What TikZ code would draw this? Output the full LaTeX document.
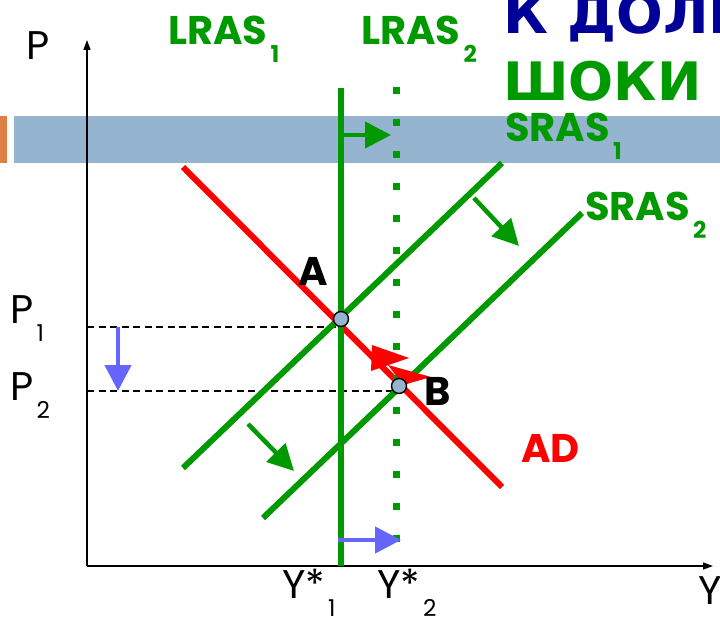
\documentclass[tikz,border=0pt]{standalone}
\usepackage{fontspec}
\setmainfont{Poppins}
\newfontfamily\cyrfont{DejaVu Sans}
\usetikzlibrary{arrows.meta}
\definecolor{ShockGreen}{HTML}{009900}
\definecolor{ShockRed}{HTML}{FF0000}
\definecolor{ShockBand}{HTML}{94B4D0}
\definecolor{ShockOrange}{HTML}{E07F45}
\definecolor{ShockViolet}{HTML}{6666FF}
\definecolor{ShockNavy}{HTML}{000099}
\newcommand\lowidx[1]{\kern.08em\raisebox{-.45em}{\scalebox{.58}{#1}}}

\begin{document}
\begin{tikzpicture}[x=1pt,y=-1pt,
  axis/.style={line width=1.4pt,-{Triangle[length=10pt,width=7pt]}},
  guide/.style={line width=1.4pt,dash pattern=on 7pt off 4.5pt},
  curve/.style={line width=6pt},
  movearrow/.style={line width=4.5pt,-{Triangle[length=26pt,width=26pt]}},
  eqpt/.style={circle,draw=black,line width=1.4pt,fill=ShockBand,inner sep=0pt,minimum size=15pt},
  headline/.style={inner sep=0pt,anchor=base west,font=\cyrfont\fontsize{55}{55}\selectfont\bfseries},
  tag/.style={inner sep=0pt,anchor=base west,font=\fontsize{40}{40}\selectfont\bfseries},
  axlabel/.style={inner sep=0pt,anchor=base west,font=\fontsize{40}{40}\selectfont}
]
\useasboundingbox (0,0) rectangle (720,623);
% band across the top
\fill[ShockBand] (14,116) rectangle (720,163);
\fill[ShockOrange] (0,116) rectangle (7,163);
% headline
\node[headline,text=ShockNavy] (head) at (503,34) {К ДОЛГ};
\node[headline,text=ShockGreen,font=\cyrfont\fontsize{53}{53}\selectfont\bfseries] (shocks) at (503,101) {ШОКИ};
% axes
\coordinate (O) at (87,566);
\coordinate (ytop) at (87,40);
\coordinate (xend) at (713,566);
\draw[axis] (O) -- (ytop);
\draw[axis] (O) -- (xend);
% equilibrium points
\coordinate (A) at (341,319);
\coordinate (B) at (399,386);
\draw[guide] (87,327) -- (341,327);
\draw[guide] (87,391) -- (399,391);
% aggregate supply and demand
\coordinate (sras1a) at (183,468);
\coordinate (sras1b) at (502,163);
\coordinate (sras2a) at (263,518);
\coordinate (sras2b) at (582,213);
\coordinate (ada) at (183,167);
\coordinate (adb) at (502,487);
\draw[curve,ShockGreen] (sras1a) -- (sras1b);
\draw[curve,ShockRed] (ada) -- (adb);
\draw[curve,ShockGreen] (341,88) -- (341,566);
\draw[ShockGreen,line width=7pt,dash pattern=on 7pt off 25pt] (396,87) -- (396,546);
% shifts
\draw[movearrow,ShockGreen] (344,135) -- (391,135);
\draw[movearrow,ShockGreen] (248,424) -- (294,471);
\draw[movearrow,ShockGreen] (474,198) -- (519,246);
\draw[movearrow,ShockViolet] (338,540) -- (401,540);
\draw[movearrow,ShockViolet] (118,327) -- (118,391);
\draw[curve,ShockGreen] (sras2a) -- (sras2b);
\fill[ShockRed] (372,345) -- (409,358) -- (371,371) -- cycle;
\fill[ShockRed] (388,365) -- (431,377) -- (403,385) -- cycle;
\node[eqpt] (ptA) at (A) {};
\node[eqpt] (ptB) at (B) {};
% labels
\node[tag,text=ShockGreen] (lras1) at (168,45) {LRAS\lowidx{1}};
\node[tag,text=ShockGreen] (lras2) at (361,45) {LRAS\lowidx{2}};
\node[tag,text=ShockGreen] (sras1) at (505,142) {SRAS\lowidx{1}};
\node[tag,text=ShockGreen] (sras2) at (585,220) {SRAS\lowidx{2}};
\node[tag,text=ShockRed] (ad) at (521,462) {AD};
\node[tag] (labA) at (298,285) {A};
\node[tag] (labB) at (424,405) {B};
\node[axlabel] (labP) at (26,60) {P};
\node[axlabel] (labY) at (698,604) {Y};
\node[axlabel] (labP1) at (10,323) {P\lowidx{1}};
\node[axlabel] (labP2) at (10,400) {P\lowidx{2}};
\node[axlabel] (labY1) at (282,598) {Y*\lowidx{1}};
\node[axlabel] (labY2) at (377,598) {Y*\lowidx{2}};
\end{tikzpicture}
\end{document}
